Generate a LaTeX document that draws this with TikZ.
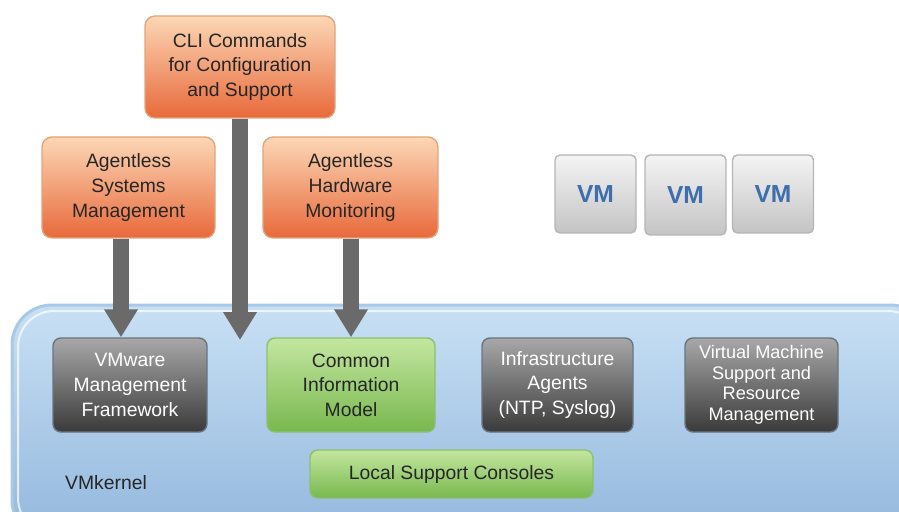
\documentclass[tikz,border=0pt]{standalone}
\usepackage{fontspec}
\setmainfont{Liberation Sans}
\usetikzlibrary{arrows.meta,calc}
\definecolor{orB}{HTML}{E0A57C}
\definecolor{orT}{HTML}{FCD7B6}
\definecolor{orM}{HTML}{F08A4F}
\definecolor{orD}{HTML}{E8693A}
\definecolor{dkB}{HTML}{6A7580}
\definecolor{dkT}{HTML}{A8A8A8}
\definecolor{dkM}{HTML}{555555}
\definecolor{dkD}{HTML}{3A3A3A}
\definecolor{grB}{HTML}{8CC070}
\definecolor{grT}{HTML}{C4E6A0}
\definecolor{grM}{HTML}{90CC64}
\definecolor{grD}{HTML}{78B84E}
\definecolor{blB}{HTML}{A9C9E6}
\definecolor{blT}{HTML}{C8E0F4}
\definecolor{blD}{HTML}{92B7DD}
\definecolor{vmB}{HTML}{B5B5B5}
\definecolor{vmT}{HTML}{F4F4F4}
\definecolor{vmD}{HTML}{C4C4C4}
\definecolor{vmtxt}{HTML}{3D6FAE}
\definecolor{arr}{HTML}{6A6A6A}
\tikzset{
  txt/.style={font=\fontsize{16.5}{21}\selectfont, align=center, inner sep=0pt},
  orbox/.style={txt, draw=orB, line width=1.2pt, rounded corners=10*0.03cm,
     top color=orT, middle color=orM, bottom color=orD, text=black!85},
  dkbox/.style={txt, draw=dkB, line width=1.2pt, rounded corners=8*0.03cm,
     top color=dkT, middle color=dkM, bottom color=dkD, text=white},
  grbox/.style={txt, draw=grB, line width=1.2pt, rounded corners=8*0.03cm,
     top color=grT, middle color=grM, bottom color=grD, text=black!85},
  vmbox/.style={draw=vmB, line width=1.2pt, rounded corners=5*0.03cm,
     top color=vmT, bottom color=vmD, text=vmtxt, inner sep=0pt,
     font=\fontsize{21}{24}\selectfont\bfseries,
     minimum width=81*0.03cm, minimum height=78*0.03cm},
  bigarrow/.style={draw=arr, line width=16*0.03cm,
     -{Triangle[width=32*0.03cm, length=28*0.03cm]}},
}
\begin{document}
\begin{tikzpicture}[x=0.03cm,y=-0.03cm]
\useasboundingbox (0,0) rectangle (899,512);
\clip (0,0) rectangle (899,512);
% VMkernel region
\draw[draw=blB, line width=3*0.03cm, rounded corners=40*0.03cm,
  top color=blT, bottom color=blD] (12,305) rectangle (930,540);
\draw[white, opacity=0.7, line width=2*0.03cm, rounded corners=36*0.03cm]
  (18,311) rectangle (924,534);
\node[txt, text=black!85, anchor=center] (vmk) at (106,483) {VMkernel};

% top boxes
\node[orbox, minimum width=190*0.03cm, minimum height=102*0.03cm] (cli) at (240,67)
  {CLI Commands\\for Configuration\\and Support};
\node[orbox, minimum width=173*0.03cm, minimum height=101*0.03cm] (asm) at (128.5,187.5)
  {Agentless\\Systems\\Management};
\node[orbox, minimum width=175*0.03cm, minimum height=101*0.03cm] (ahm) at (350.5,187.5)
  {Agentless\\Hardware\\Monitoring};

% VMs
\node[vmbox] (vm1) at (595.5,194) {VM};
\node[vmbox, minimum height=80*0.03cm] (vm2) at (685.5,195) {\raisebox{-3pt}{VM}};
\node[vmbox] (vm3) at (773,194) {VM};

% inner boxes
\node[dkbox, minimum width=154*0.03cm, minimum height=94*0.03cm] (vmf) at (130,385)
  {VMware\\Management\\Framework};
\node[grbox, minimum width=168*0.03cm, minimum height=94*0.03cm] (cim) at (351,385)
  {Common\\Information\\Model};
\node[dkbox, minimum width=151*0.03cm, minimum height=94*0.03cm] (ia) at (557.5,385)
  {Infrastructure\\Agents\\(NTP, Syslog)};
\node[dkbox, minimum width=153*0.03cm, minimum height=94*0.03cm,
  font=\fontsize{15.5}{17.5}\selectfont] (vms) at (761.5,385)
  {Virtual Machine\\Support and\\Resource\\Management};
\node[grbox, minimum width=283*0.03cm, minimum height=48*0.03cm] (lsc) at (451.5,474)
  {Local Support Consoles};

% arrows
\coordinate (clitip) at (240,340);
\draw[bigarrow] (asm.south -| 121,0) -- (vmf.north -| 121,0);
\draw[bigarrow] (cli.south) -- (clitip);
\draw[bigarrow] (ahm.south -| 351,0) -- (cim.north);
\end{tikzpicture}
\end{document}
